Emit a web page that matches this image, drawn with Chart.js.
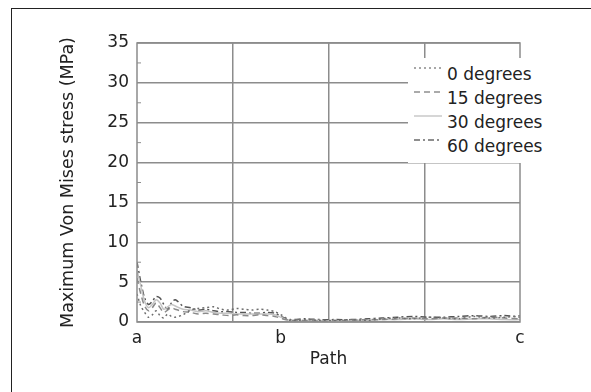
<!DOCTYPE html>
<html>
<head>
<meta charset="utf-8">
<script src="https://cdn.jsdelivr.net/npm/chart.js@4/dist/chart.umd.min.js"></script>
<style>
  html, body { margin: 0; padding: 0; background: #fff; }
  #wrap { position: relative; width: 591px; height: 392px; overflow: hidden; }
  #frame { position: absolute; left: 11px; top: 8px; right: -2px; bottom: -2px;
    border-top: 1.5px solid #222; border-left: 1.5px solid #222; pointer-events: none; }
  #legend { position: absolute; left: 408px; top: 58px; width: 148px; height: 105px;
    background: #fff; font-family: "DejaVu Sans", sans-serif; font-size: 17px; color: #222; }
  .row { position: absolute; left: 0; height: 24px; }
  .row svg { position: absolute; left: 6px; }
  .row span { position: absolute; left: 39px; top: 0; white-space: nowrap; line-height: 24px; }
</style>
</head>
<body>
<div id="wrap">
  <canvas id="chart"></canvas>
  <div id="frame"></div>
  <div id="legend"></div>
</div>
<script>
// positions along the path, a = 0, c = 1
const pathPos = [0, 0.01, 0.02, 0.03, 0.04, 0.05, 0.06, 0.07, 0.08, 0.09, 0.10, 0.12, 0.14, 0.16,
  0.18, 0.20, 0.22, 0.24, 0.26, 0.28, 0.30, 0.32, 0.34, 0.36, 0.38, 0.40, 0.44, 0.48, 0.52,
  0.56, 0.60, 0.64, 0.68, 0.72, 0.76, 0.80, 0.84, 0.88, 0.92, 0.96, 1.0];

const deg0 = [3.5, 2.0, 1.2, 0.6, 0.9, 1.4, 0.8, 0.5, 1.0, 0.7, 0.6, 0.9, 1.5, 1.7, 1.8, 1.9, 1.6,
  1.5, 1.7, 1.6, 1.5, 1.6, 1.5, 1.3, 0.8, 0.2, 0.3, 0.2, 0.2, 0.3, 0.2, 0.4, 0.5, 0.4, 0.6, 0.5,
  0.4, 0.7, 0.5, 0.6, 0.8];
const deg15 = [5.5, 3.5, 2.0, 1.4, 1.8, 2.4, 1.8, 1.2, 1.5, 1.8, 1.6, 1.3, 1.2, 1.0, 1.1, 1.0, 0.9,
  0.8, 0.9, 0.8, 0.8, 0.9, 0.8, 0.7, 0.4, 0.2, 0.2, 0.1, 0.2, 0.2, 0.3, 0.3, 0.4, 0.5, 0.4, 0.5,
  0.5, 0.4, 0.6, 0.5, 0.4];
const deg30 = [6.5, 4.5, 2.6, 1.8, 2.2, 2.8, 2.4, 1.6, 1.9, 2.2, 2.0, 1.6, 1.5, 1.3, 1.4, 1.2, 1.1,
  1.1, 1.0, 1.0, 1.0, 1.0, 1.0, 0.9, 0.5, 0.2, 0.2, 0.2, 0.1, 0.2, 0.2, 0.3, 0.3, 0.4, 0.3, 0.4,
  0.3, 0.4, 0.4, 0.3, 0.3];
const deg60 = [7.5, 5.0, 3.0, 2.2, 2.6, 3.2, 3.0, 2.2, 1.6, 2.4, 2.8, 2.0, 1.8, 1.5, 1.6, 1.4, 1.3,
  1.3, 1.2, 1.2, 1.1, 1.1, 1.2, 1.1, 0.6, 0.3, 0.4, 0.3, 0.3, 0.3, 0.4, 0.5, 0.6, 0.7, 0.6, 0.6,
  0.7, 0.8, 0.7, 0.8, 0.6];

const pathTickValues = [0, 0.375, 1];
const pathTickLabels = ["a", "b", "c"];
const pathGridValues = [0.25, 0.5, 0.75];
const yTicks = [0, 5, 10, 15, 20, 25, 30, 35];

const seriesLabels = ["0 degrees", "15 degrees", "30 degrees", "60 degrees"];
const seriesData = [deg0, deg15, deg30, deg60];
const seriesColors = ["#6e6e6e", "#8a8a8a", "#c4c4c4", "#555555"];
const legendColors = ["#8a8a8a", "#8f8f8f", "#c8c8c8", "#6a6a6a"];
const seriesDash = [[2, 3], [6, 4], [], [6, 3, 2, 3]];

const FONT = "DejaVu Sans";
const GRID = "#8c8c8c";

const toPoints = (vals) => vals.map((v, i) => ({ x: pathPos[i], y: v }));

// frame of the plot plus small inside ticks at the half steps
const plotBox = {
  id: "plotBox",
  afterDraw(chart) {
    const { ctx, chartArea: a, scales } = chart;
    ctx.save();
    ctx.strokeStyle = GRID;
    ctx.lineWidth = 1.5;
    ctx.strokeRect(a.left, a.top, a.right - a.left, a.bottom - a.top);
    ctx.lineWidth = 1;
    for (let i = 0; i < yTicks.length - 1; i += 1) {
      const y = scales.y.getPixelForValue((yTicks[i] + yTicks[i + 1]) / 2);
      ctx.beginPath();
      ctx.moveTo(a.left, y);
      ctx.lineTo(a.left + 4, y);
      ctx.stroke();
    }
    ctx.restore();
  },
};

new Chart(document.getElementById("chart"), {
  type: "line",
  data: {
    datasets: seriesLabels.map((label, i) => ({
      label,
      data: toPoints(seriesData[i]),
      borderColor: seriesColors[i],
      borderDash: seriesDash[i],
      borderWidth: 1.5,
      pointRadius: 0,
      tension: 0.3,
      fill: false,
    })),
  },
  options: {
    responsive: true,
    maintainAspectRatio: false,
    animation: false,
    layout: { padding: { left: 58, top: 43, right: 71, bottom: 18 } },
    plugins: { legend: { display: false }, tooltip: { enabled: false } },
    scales: {
      x: {
        type: "linear",
        min: 0,
        max: 1,
        afterBuildTicks: (scale) => {
          scale.ticks = [0, ...pathGridValues, ...pathTickValues.slice(1, 2), 1]
            .sort((p, q) => p - q)
            .map((v) => ({ value: v }));
        },
        afterFit: (scale) => { scale.height = 52; },
        ticks: {
          autoSkip: false,
          maxRotation: 0,
          padding: 6,
          color: "#222",
          font: { family: FONT, size: 17 },
          callback: (value) => {
            const idx = pathTickValues.indexOf(value);
            return idx >= 0 ? pathTickLabels[idx] : "";
          },
        },
        grid: {
          drawTicks: false,
          lineWidth: 1.5,
          color: (c) => (pathGridValues.includes(c.tick && c.tick.value) ? GRID : "rgba(0,0,0,0)"),
        },
        border: { display: false },
        title: {
          display: true,
          text: "Path",
          color: "#222",
          font: { family: FONT, size: 17 },
          padding: { top: 0, bottom: 4 },
        },
      },
      y: {
        min: 0,
        max: 35,
        afterFit: (scale) => { scale.width = 79; },
        ticks: {
          stepSize: 5,
          padding: 8,
          color: "#222",
          font: { family: FONT, size: 17 },
        },
        grid: { drawTicks: false, lineWidth: 1.5, color: GRID },
        border: { display: false },
        title: {
          display: true,
          text: "Maximum Von Mises stress (MPa)",
          color: "#222",
          font: { family: FONT, size: 17.5 },
          padding: { top: 0, bottom: 4 },
        },
      },
    },
  },
  plugins: [plotBox],
});

// legend drawn as real text over the plot
const legend = document.getElementById("legend");
seriesLabels.forEach((label, i) => {
  const row = document.createElement("div");
  row.className = "row";
  row.style.top = (4 + i * 24) + "px";
  const dash = seriesDash[i].length ? seriesDash[i].join(",") : "none";
  row.innerHTML =
    `<svg width="30" height="24"><line x1="0" y1="6" x2="28" y2="6" stroke="${legendColors[i]}" ` +
    `stroke-width="1.5" stroke-dasharray="${dash}"/></svg><span>${label}</span>`;
  legend.appendChild(row);
});
</script>
</body>
</html>
